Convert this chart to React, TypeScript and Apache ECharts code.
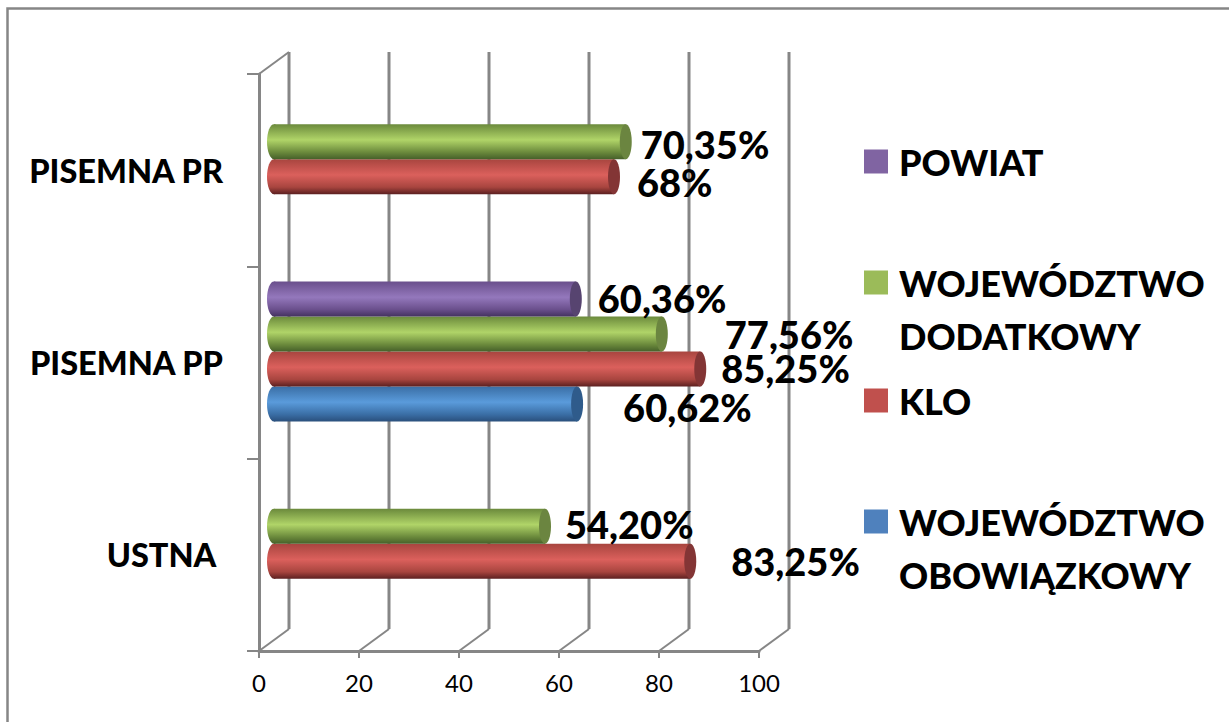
import React, { useEffect, useRef } from "react";
import * as echarts from "echarts";

const categories = ["USTNA\u00A0", "PISEMNA PP", "PISEMNA PR"];
const xTicks = [0, 20, 40, 60, 80, 100];

const seriesNames = ["WOJEWÓDZTWO OBOWIĄZKOWY", "KLO", "WOJEWÓDZTWO DODATKOWY", "POWIAT"];
const wojObowiazkowy = [null, 60.62, null];
const klo = [83.25, 85.25, 68];
const wojDodatkowy = [54.2, 77.56, 70.35];
const powiat = [null, 60.36, null];

const wojObowiazkowyLabels = ["", "60,62%", ""];
const kloLabels = ["83,25%", "85,25%", "68%"];
const wojDodatkowyLabels = ["54,20%", "77,56%", "70,35%"];
const powiatLabels = ["", "60,36%", ""];

// label nudges relative to the end of each cylinder, as placed by hand in the original
const nudgeX = [[0, 46, 0], [41, 21, 23], [20, 63, 15], [0, 22, 0]];
const nudgeY = [[0, 3, 0], [0, -1, 5], [-2, 0, 2], [0, -1, 0]];

const baseColors = ["#4F81BD", "#C0504D", "#9BBB59", "#8064A2"];
const capColors = ["#2F5B8B", "#833535", "#6B8540", "#574470"];
const gradients = [
  ["#3A6EA5", "#5A9BDB", "#2A4F7C"],
  ["#A8453F", "#DB605C", "#5C2020"],
  ["#6B8A3C", "#B0D468", "#46602A"],
  ["#6A4F8C", "#9478BC", "#443260"],
];

const GRID = { left: 259, top: 74, width: 500, height: 577 };
const DEPTH_X = 30;
const DEPTH_Y = 22;
const AXIS_GREY = "#868686";
const FONT = "Lato, Carlito, Calibri, sans-serif";

function cylinderSeries(name: string, idx: number, values: (number | null)[], labels: string[]) {
  const data = values
    .map((v, i) => [v, i, labels[i], nudgeX[idx][i], nudgeY[idx][i]])
    .filter((d) => d[0] !== null);
  return {
    type: "custom",
    name,
    coordinateSystem: "cartesian2d",
    itemStyle: { color: baseColors[idx] },
    z: 3,
    clip: false,
    encode: { x: 0, y: 1 },
    data,
    renderItem: (_p: any, api: any) => {
      const value = api.value(0);
      const cat = api.value(1);
      const band = api.size([0, 1])[1];
      const h = band / 5.5;
      const rx = 6;
      const start = api.coord([0, cat]);
      const end = api.coord([value, cat]);
      const x0 = start[0] + DEPTH_X / 2;
      const x1 = end[0] + DEPTH_X / 2;
      const cy = start[1] - DEPTH_Y / 2 + (1.5 - idx) * h;
      const stops = gradients[idx];
      const fill = {
        type: "linear",
        x: 0,
        y: 0,
        x2: 0,
        y2: 1,
        colorStops: [
          { offset: 0, color: stops[0] },
          { offset: 0.45, color: stops[1] },
          { offset: 0.8, color: stops[0] },
          { offset: 1, color: stops[2] },
        ],
      };
      const rowData = data.find((d) => d[1] === cat) as any[];
      return {
        type: "group",
        children: [
          { type: "ellipse", shape: { cx: x0, cy, rx: rx + 1, ry: h / 2 }, style: { fill } },
          { type: "rect", shape: { x: x0, y: cy - h / 2, width: x1 - x0, height: h }, style: { fill } },
          { type: "ellipse", shape: { cx: x1, cy, rx, ry: h / 2 }, style: { fill: capColors[idx] } },
          {
            type: "text",
            z2: 10,
            style: {
              x: x1 + rowData[3],
              y: cy + rowData[4],
              text: rowData[2],
              fill: "#000",
              fontFamily: FONT,
              fontWeight: 900,
              fontSize: 38,
              align: "left",
              verticalAlign: "middle",
            },
          },
        ],
      };
    },
  };
}

const wallSeries = {
  type: "custom",
  coordinateSystem: "cartesian2d",
  silent: true,
  z: 1,
  clip: false,
  encode: { x: 0 },
  data: xTicks.map((t) => [t, 0]),
  renderItem: (params: any, api: any) => {
    const tick = api.value(0);
    const x = api.coord([tick, 0])[0];
    const sys = params.coordSys;
    const bottom = sys.y + sys.height;
    const topY = sys.y - DEPTH_Y;
    const lines: any[] = [
      {
        type: "polyline",
        shape: {
          points: [
            [x, bottom],
            [x + DEPTH_X, bottom - DEPTH_Y],
          ],
        },
        style: { fill: "none", stroke: AXIS_GREY, lineWidth: 2 },
      },
      {
        type: "line",
        shape: { x1: x + DEPTH_X, y1: bottom - DEPTH_Y, x2: x + DEPTH_X, y2: topY },
        style: { stroke: AXIS_GREY, lineWidth: 3 },
      },
    ];
    if (tick === 0) {
      lines.push({
        type: "line",
        shape: { x1: x, y1: sys.y, x2: x + DEPTH_X, y2: topY },
        style: { stroke: AXIS_GREY, lineWidth: 2 },
      });
    }
    return { type: "group", children: lines };
  },
};

const legendTops = [
  { name: seriesNames[3], top: 135 },
  { name: seriesNames[2], top: 203 },
  { name: seriesNames[1], top: 374 },
  { name: seriesNames[0], top: 442 },
];

export default function App() {
  const ref = useRef<HTMLDivElement>(null);
  useEffect(() => {
    const chart = echarts.init(ref.current!, undefined, { renderer: "svg" });
    chart.setOption({
      animation: false,
      backgroundColor: "#fff",
      grid: { ...GRID, containLabel: false },
      xAxis: {
        type: "value",
        min: 0,
        max: 100,
        interval: 20,
        splitLine: { show: false },
        axisLine: { show: true, lineStyle: { color: AXIS_GREY, width: 3 } },
        axisTick: { show: true, length: 7, lineStyle: { color: AXIS_GREY, width: 2 } },
        axisLabel: { color: "#000", fontFamily: FONT, fontSize: 24, margin: 19 },
      },
      yAxis: {
        type: "category",
        data: categories,
        axisLine: { show: true, onZero: false, lineStyle: { color: AXIS_GREY, width: 3 } },
        axisTick: { show: true, length: 12, lineStyle: { color: AXIS_GREY, width: 2 } },
        splitLine: { show: false },
        axisLabel: {
          color: "#000",
          fontFamily: FONT,
          fontWeight: 900,
          fontSize: 32.5,
          margin: 36,
          padding: [4, 0, 0, 0],
        },
      },
      legend: legendTops.map((l) => ({
        data: [l.name],
        left: 864,
        top: l.top,
        orient: "vertical",
        icon: "rect",
        itemWidth: 24,
        itemHeight: 24,
        padding: 0,
        selectedMode: false,
        formatter: (n: string) => (n.includes(" ") ? " \n" + n.replace(" ", "\n") : n),
        textStyle: {
          color: "#000",
          fontFamily: FONT,
          fontWeight: 900,
          fontSize: 36,
          lineHeight: 53,
          padding: [0, 0, 0, 6],
        },
      })),
      graphic: [
        {
          type: "polyline",
          silent: true,
          z: -1,
          shape: { points: [[7.5, 722], [7.5, 8.5], [1229, 8.5]] },
          style: { fill: "none", stroke: AXIS_GREY, lineWidth: 2.5 },
        },
      ],
      series: [
        wallSeries,
        cylinderSeries(seriesNames[0], 0, wojObowiazkowy, wojObowiazkowyLabels),
        cylinderSeries(seriesNames[1], 1, klo, kloLabels),
        cylinderSeries(seriesNames[2], 2, wojDodatkowy, wojDodatkowyLabels),
        cylinderSeries(seriesNames[3], 3, powiat, powiatLabels),
      ],
    });
    return () => chart.dispose();
  }, []);
  return <div ref={ref} style={{ position: "fixed", left: 0, top: 0, width: 1229, height: 722 }} />;
}
